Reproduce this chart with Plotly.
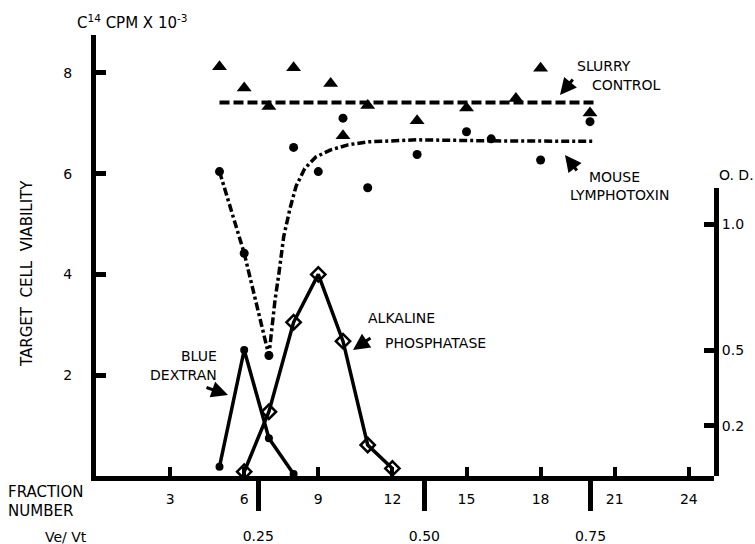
import plotly.graph_objects as go

# ---------------- data ----------------
fraction_ticks = [3, 6, 9, 12, 15, 18, 21, 24]
viability_ticks = [2, 4, 6, 8]
od_ticks = [0.2, 0.5, 1.0]
od_ticktext = ["0.2", "0.5", "1.0"]
vevt_ticks = [0.25, 0.50, 0.75]
vevt_ticktext = ["0.25", "0.50", "0.75"]

slurry_x = [5, 6, 7, 8, 9.5, 10, 11, 13, 15, 17, 18, 20]
slurry_y = [8.12, 7.70, 7.33, 8.10, 7.79, 6.75, 7.35, 7.05, 7.30, 7.49, 8.09, 7.20]
slurry_mean_x = [5.0, 20.2]
slurry_mean_y = [7.41, 7.41]

lympho_x = [5, 6, 7, 8, 9, 10, 11, 13, 15, 16, 18, 20]
lympho_y = [6.04, 4.42, 2.39, 6.52, 6.04, 7.10, 5.72, 6.38, 6.83, 6.69, 6.27, 7.03]
lympho_fit_x = [5.0, 6.0, 7.0, 7.1, 7.25, 7.4, 7.6, 7.85, 8.1, 8.45, 8.9, 9.5, 10.2, 11.0, 13.0, 16.0, 20.2]
lympho_fit_y = [6.04, 4.42, 2.39, 2.9, 3.5, 4.0, 4.75, 5.3, 5.75, 6.1, 6.33, 6.47, 6.57, 6.63, 6.67, 6.65, 6.64]

dextran_x = [5, 6, 7, 8]
dextran_od = [0.037, 0.50, 0.15, 0.008]

alkphos_x = [6, 7, 8, 9, 10, 11, 12]
alkphos_od = [0.017, 0.255, 0.61, 0.80, 0.535, 0.123, 0.03]

# ---------------- geometry ----------------
X_MAX = 25.02
Y_MAX = 8.75
Y2_TOP = 5.72          # right axis top, in left-axis units
OD_FACTOR = 5.0        # left units per O.D. unit
VEVT_OFF, VEVT_SCALE = -0.155, 26.9

L, R, T, B = 96, 41, 35, 68
W, H = 755, 544
PW, PH = W - L - R, H - T - B


def px(xp, yp):
    return (xp - L) / PW, (H - B - yp) / PH


FONT = "DejaVu Sans"
BLACK = "black"

fig = go.Figure()

fig.add_trace(go.Scatter(x=slurry_mean_x, y=slurry_mean_y, mode="lines",
                         line=dict(color=BLACK, width=4, dash="10px,4px"),
                         showlegend=False, hoverinfo="skip"))
fig.add_trace(go.Scatter(x=lympho_fit_x, y=lympho_fit_y, mode="lines",
                         line=dict(color=BLACK, width=3.5, dash="8px,3px,3px,3px"),
                         showlegend=False, hoverinfo="skip"))
fig.add_trace(go.Scatter(x=slurry_x, y=slurry_y, mode="markers",
                         marker=dict(symbol="triangle-up", size=13, color=BLACK),
                         showlegend=False))
fig.add_trace(go.Scatter(x=lympho_x, y=lympho_y, mode="markers",
                         marker=dict(symbol="circle", size=9, color=BLACK),
                         showlegend=False))
fig.add_trace(go.Scatter(x=dextran_x, y=dextran_od, mode="lines+markers", yaxis="y2",
                         line=dict(color=BLACK, width=3.5),
                         marker=dict(symbol="circle", size=8, color=BLACK),
                         cliponaxis=False, showlegend=False))
fig.add_trace(go.Scatter(x=alkphos_x, y=alkphos_od, mode="lines+markers", yaxis="y2",
                         line=dict(color=BLACK, width=3.5),
                         marker=dict(symbol="diamond-open", size=11, color=BLACK,
                                     line=dict(width=2.5, color=BLACK)),
                         cliponaxis=False, showlegend=False))
# anchor trace for the Ve/Vt axis
fig.add_trace(go.Scatter(x=[0.5], y=[-10], xaxis="x2", mode="markers",
                         marker=dict(opacity=0), showlegend=False, hoverinfo="skip"))

tickfont = dict(family=FONT, size=14, color=BLACK)

fig.update_layout(
    width=W, height=H,
    margin=dict(l=L, r=R, t=T, b=B, pad=0, autoexpand=False),
    paper_bgcolor="white", plot_bgcolor="rgba(0,0,0,0)",
    showlegend=False,
    font=dict(family=FONT, size=14, color=BLACK),
    xaxis=dict(range=[0, X_MAX], tickvals=fraction_ticks, ticks="inside",
               ticklen=9, tickwidth=4, tickcolor=BLACK, showline=True,
               linewidth=4.5, linecolor=BLACK, showgrid=False, zeroline=False,
               tickfont=tickfont, ticklabelstandoff=6, anchor="y", automargin=False),
    xaxis2=dict(range=[(0 - VEVT_OFF) / VEVT_SCALE, (X_MAX - VEVT_OFF) / VEVT_SCALE],
                overlaying="x", anchor="y", side="bottom",
                tickvals=vevt_ticks, ticktext=vevt_ticktext, ticks="outside",
                ticklen=34, tickwidth=5, tickcolor=BLACK, showline=False,
                showgrid=False, zeroline=False, tickfont=tickfont,
                ticklabelstandoff=13, automargin=False),
    yaxis=dict(range=[0, Y_MAX], tickvals=viability_ticks, ticks="inside",
               ticklen=10, tickwidth=4.5, tickcolor=BLACK, showline=True,
               linewidth=5, linecolor=BLACK, showgrid=False, zeroline=False,
               tickfont=tickfont, ticklabelstandoff=16, anchor="x", automargin=False),
    yaxis2=dict(domain=[0, Y2_TOP / Y_MAX], range=[0, Y2_TOP / OD_FACTOR],
                anchor="x", side="right", tickvals=od_ticks, ticktext=od_ticktext,
                ticks="inside", ticklen=10, tickwidth=4.5, tickcolor=BLACK,
                showline=True, linewidth=5, linecolor=BLACK, showgrid=False,
                zeroline=False, tickfont=tickfont, ticklabelstandoff=0,
                automargin=False),
)

anns = []


def text_at(xp, yp, text, xanchor="center", angle=0, size=14):
    xx, yy = px(xp, yp)
    anns.append(dict(x=xx, y=yy, xref="paper", yref="paper", text=text,
                     showarrow=False, xanchor=xanchor, yanchor="middle",
                     textangle=angle, font=dict(family=FONT, size=size, color=BLACK)))


def arrow(tip_xp, tip_yp, tail_xp, tail_yp):
    xx, yy = px(tip_xp, tip_yp)
    anns.append(dict(x=xx, y=yy, xref="paper", yref="paper", text="",
                     showarrow=True, ax=tail_xp - tip_xp, ay=tail_yp - tip_yp,
                     axref="pixel", ayref="pixel", arrowhead=2, arrowsize=1.1,
                     arrowwidth=3, arrowcolor=BLACK))


text_at(132, 22, "C<sup>14</sup> CPM X 10<sup>-3</sup>", size=15)
text_at(27, 274, "TARGET  CELL  VIABILITY", angle=-90, size=15)
text_at(736, 175, "O. D.")
text_at(6, 492, "FRACTION", xanchor="left", size=15)
text_at(6, 511, "NUMBER", xanchor="left", size=15)
text_at(89, 537, "Ve/ Vt", xanchor="right")

text_at(575, 66, "SLURRY", xanchor="left")
text_at(590, 85, "CONTROL", xanchor="left")
arrow(560, 95, 574, 78)

text_at(587, 177, "MOUSE", xanchor="left")
text_at(568, 195, "LYMPHOTOXIN", xanchor="left")
arrow(565, 155, 578, 172)

text_at(219, 356, "BLUE", xanchor="right")
text_at(219, 375, "DEXTRAN", xanchor="right")
arrow(228, 395, 205, 387)

text_at(366, 318, "ALKALINE", xanchor="left")
text_at(383, 343, "PHOSPHATASE", xanchor="left")
arrow(353, 350, 372, 337)

fig.update_layout(annotations=anns)

fig.write_html("out.html")
